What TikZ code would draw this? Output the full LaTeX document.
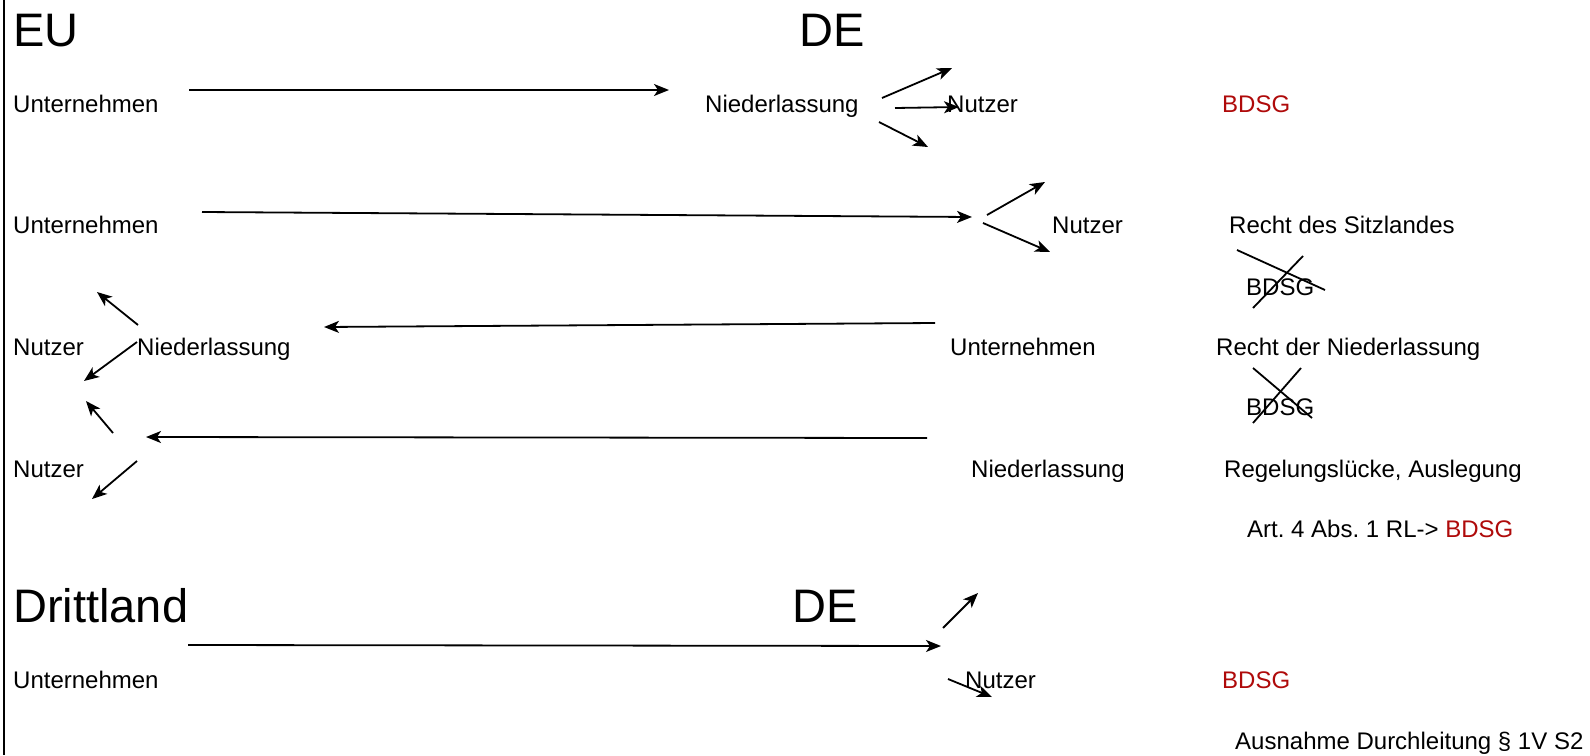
\documentclass[tikz,border=0pt]{standalone}
\usepackage{fontspec}
\setmainfont{Liberation Sans}
\usetikzlibrary{arrows.meta}
\definecolor{bdsgred}{RGB}{175,10,10}
\frenchspacing
\tikzset{
  txt/.style={inner sep=0pt, anchor=base west, font=\fontsize{24}{28}\selectfont},
  big/.style={inner sep=0pt, anchor=base west, font=\fontsize{47}{54}\selectfont},
  arr/.style={line width=1.8pt, -{Stealth[length=15pt,width=12pt,inset=4pt]}},
  cross/.style={line width=1.8pt},
  frame/.style={line width=2pt}
}
\begin{document}
\begin{tikzpicture}[x=1pt,y=-1pt]
\useasboundingbox (0,0) rectangle (1590,755);
\fill[white] (0,0) rectangle (1590,755);
% left frame line
\coordinate (ft) at (4,0);
\coordinate (fb) at (4,755);
\draw[frame] (ft) -- (fb);

% headings
\node[big] (eu) at (13,46) {EU};
\node[big] (de1) at (799,46) {DE};
\node[big] (dl) at (13,622) {Drittland};
\node[big] (de2) at (792,622) {DE};

% row 1
\node[txt] (u1) at (13,112) {Unternehmen};
\node[txt] (n1) at (705,112) {Niederlassung};
\node[txt] (nu1) at (947,112) {Nutzer};
\node[txt, text=bdsgred] (b1) at (1222,112) {BDSG};
\coordinate (a1s) at (189,90);
\coordinate (a1e) at (669,90);
\draw[arr] (a1s) -- (a1e);
\coordinate (f1a) at (882,98);  \coordinate (f1b) at (952,68);
\coordinate (f1c) at (895,108); \coordinate (f1d) at (959,107);
\coordinate (f1e) at (879,122); \coordinate (f1f) at (928,147);
\draw[arr] (f1a) -- (f1b);
\draw[arr] (f1c) -- (f1d);
\draw[arr] (f1e) -- (f1f);

% row 2
\node[txt] (u2) at (13,233) {Unternehmen};
\node[txt] (nu2) at (1052,233) {Nutzer};
\node[txt] (rs) at (1229,233) {Recht des Sitzlandes};
\coordinate (a2s) at (202,212);
\coordinate (a2e) at (972,217);
\draw[arr] (a2s) -- (a2e);
\coordinate (f2a) at (987,215); \coordinate (f2b) at (1045,182);
\coordinate (f2c) at (983,223); \coordinate (f2d) at (1050,252);
\draw[arr] (f2a) -- (f2b);
\draw[arr] (f2c) -- (f2d);
\node[txt] (bx1) at (1246,295) {BDSG};
\coordinate (c1a) at (1237,250); \coordinate (c1b) at (1325,290);
\coordinate (c1c) at (1303,256); \coordinate (c1d) at (1253,308);
\draw[cross] (c1a) -- (c1b);
\draw[cross] (c1c) -- (c1d);

% row 3
\node[txt] (nu3) at (13,355) {Nutzer};
\node[txt] (n3) at (137,355) {Niederlassung};
\node[txt] (u3) at (950,355) {Unternehmen};
\node[txt] (rn) at (1216,355) {Recht der Niederlassung};
\coordinate (a3s) at (935,323);
\coordinate (a3e) at (324,327);
\draw[arr] (a3s) -- (a3e);
\coordinate (f3a) at (138,325); \coordinate (f3b) at (97,292);
\coordinate (f3c) at (137,342); \coordinate (f3d) at (84,381);
\draw[arr] (f3a) -- (f3b);
\draw[arr] (f3c) -- (f3d);
\node[txt] (bx2) at (1246,415) {BDSG};
\coordinate (c2a) at (1253,368); \coordinate (c2b) at (1312,418);
\coordinate (c2c) at (1301,368); \coordinate (c2d) at (1253,423);
\draw[cross] (c2a) -- (c2b);
\draw[cross] (c2c) -- (c2d);

% row 4
\node[txt] (nu4) at (13,477) {Nutzer};
\node[txt] (n4) at (971,477) {Niederlassung};
\node[txt] (rl) at (1224,477) {Regelungslücke, Auslegung};
\coordinate (a4s) at (927,438);
\coordinate (a4e) at (146,437);
\draw[arr] (a4s) -- (a4e);
\coordinate (f4a) at (113,433); \coordinate (f4b) at (86,401);
\coordinate (f4c) at (137,461); \coordinate (f4d) at (92,499);
\draw[arr] (f4a) -- (f4b);
\draw[arr] (f4c) -- (f4d);
\node[txt] (art) at (1247,537) {Art. 4 Abs. 1 RL-> \textcolor{bdsgred}{BDSG}};

% row 6 (Drittland)
\node[txt] (u6) at (13,688) {Unternehmen};
\node[txt] (nu6) at (965,688) {Nutzer};
\node[txt, text=bdsgred] (b6) at (1222,688) {BDSG};
\node[txt] (aus) at (1235,749) {Ausnahme Durchleitung § 1V S2};
\coordinate (a6s) at (188,645);
\coordinate (a6e) at (941,646);
\draw[arr] (a6s) -- (a6e);
\coordinate (f6a) at (943,628); \coordinate (f6b) at (978,593);
\coordinate (f6c) at (948,679); \coordinate (f6d) at (992,697);
\draw[arr] (f6a) -- (f6b);
\draw[arr] (f6c) -- (f6d);
\end{tikzpicture}
\end{document}
